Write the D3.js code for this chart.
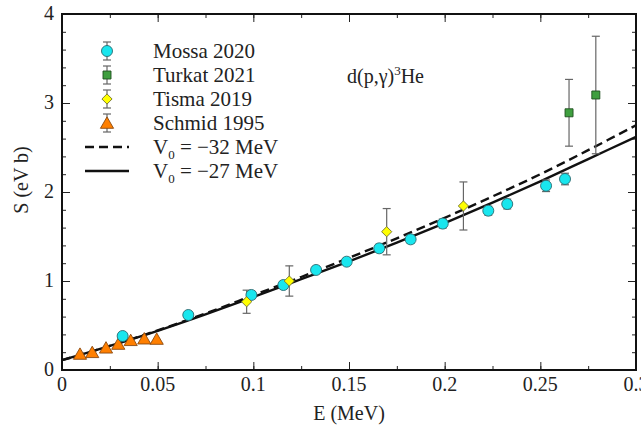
<!DOCTYPE html>
<html>
<head>
<meta charset="utf-8">
<script src="https://cdn.jsdelivr.net/npm/d3@7"></script>
<style>
  body { margin: 0; background: #fff; }
</style>
</head>
<body>
<div id="chart"></div>
<script>
// data
var mossaE = [0.0317, 0.066, 0.099, 0.1157, 0.1328, 0.1488, 0.1658, 0.1822, 0.199, 0.2228, 0.2327, 0.253, 0.2629];
var mossaS = [0.382, 0.618, 0.843, 0.955, 1.124, 1.217, 1.367, 1.468, 1.645, 1.79, 1.865, 2.07, 2.146];
var mossaErr = [0.03, 0.03, 0.04, 0.04, 0.04, 0.04, 0.045, 0.045, 0.05, 0.05, 0.055, 0.065, 0.065];

var turkatE = [0.265, 0.279];
var turkatS = [2.89, 3.09];
var turkatErr = [0.375, 0.66];

var tismaE = [0.0965, 0.1188, 0.1697, 0.2098];
var tismaS = [0.767, 1.0, 1.554, 1.843];
var tismaErr = [0.13, 0.17, 0.26, 0.27];

var schmidE = [0.0094, 0.0158, 0.023, 0.0294, 0.0359, 0.043, 0.0495];
var schmidS = [0.18, 0.199, 0.25, 0.292, 0.334, 0.352, 0.348];

var curveE = [0, 0.025, 0.05, 0.075, 0.1, 0.125, 0.15, 0.175, 0.2, 0.225, 0.25, 0.275, 0.3];
var curve32 = [0.11, 0.27, 0.445, 0.635, 0.84, 1.045, 1.26, 1.48, 1.71, 1.95, 2.2, 2.47, 2.75];
var curve27 = [0.11, 0.27, 0.44, 0.625, 0.82, 1.02, 1.22, 1.43, 1.65, 1.88, 2.12, 2.37, 2.62];

var xTicks = [0, 0.05, 0.1, 0.15, 0.2, 0.25, 0.3];
var xTickLabels = ["0", "0.05", "0.1", "0.15", "0.2", "0.25", "0.3"];
var yTicks = [0, 1, 2, 3, 4];

var serif = "Liberation Serif";

var svgWidth = 641, svgHeight = 434;
var margin = { top: 14, right: 5, bottom: 64, left: 62 };
var width = svgWidth - margin.left - margin.right;
var height = svgHeight - margin.top - margin.bottom;

var svg = d3.select("#chart").append("svg")
  .attr("width", svgWidth)
  .attr("height", svgHeight);

var g = svg.append("g")
  .attr("transform", `translate(${margin.left}, ${margin.top})`);

var x = d3.scaleLinear().domain([0, 0.3]).range([0, width]);
var y = d3.scaleLinear().domain([0, 4]).range([height, 0]);

// ticks on all four sides, pointing inward
var xMinor = d3.range(0, 0.3001, 0.025);
var yMinor = d3.range(0, 4.001, 0.2);

function tickAxis(axisFn, scale, values, size, transform) {
  g.append("g")
    .attr("transform", transform)
    .call(axisFn(scale).tickValues(values).tickSize(size).tickFormat(""))
    .call(a => a.select(".domain").remove())
    .selectAll("line").attr("stroke", "#222").attr("stroke-width", 1);
}
tickAxis(d3.axisTop, x, xMinor, 4, `translate(0, ${height})`);
tickAxis(d3.axisTop, x, xTicks, 8, `translate(0, ${height})`);
tickAxis(d3.axisBottom, x, xMinor, 4, "translate(0, 0)");
tickAxis(d3.axisBottom, x, xTicks, 8, "translate(0, 0)");
tickAxis(d3.axisRight, y, yMinor, 4, "translate(0, 0)");
tickAxis(d3.axisRight, y, yTicks, 8, "translate(0, 0)");
tickAxis(d3.axisLeft, y, yMinor, 4, `translate(${width}, 0)`);
tickAxis(d3.axisLeft, y, yTicks, 8, `translate(${width}, 0)`);

function txt(parent, size) {
  return parent.append("text")
    .attr("font-family", serif)
    .attr("font-size", size)
    .attr("fill", "#222");
}

// tick labels
xTicks.forEach(function(d, i) {
  txt(g, 20).attr("x", x(d)).attr("y", height + 21)
    .attr("text-anchor", "middle").text(xTickLabels[i]);
});
yTicks.forEach(function(d) {
  txt(g, 20).attr("x", -8).attr("y", y(d) + 6)
    .attr("text-anchor", "end").text(d);
});

// axis titles
txt(g, 20).attr("x", width / 2).attr("y", height + 50)
  .attr("text-anchor", "middle").text("E (MeV)");

txt(g, 20).attr("transform", `translate(-34, ${height / 2 - 12}) rotate(-90)`)
  .attr("text-anchor", "middle").text("S (eV b)");

// reaction label
var react = txt(g, 20).attr("x", 285).attr("y", 69);
react.append("tspan").text("d(p,γ)");
react.append("tspan").attr("dy", -8).attr("font-size", 13).text("3");
react.append("tspan").attr("dy", 8).text("He");

// curves
var line = d3.line()
  .x(d => x(d[0]))
  .y(d => y(d[1]))
  .curve(d3.curveCatmullRom);

g.append("path")
  .datum(curveE.map((e, i) => [e, curve32[i]]))
  .attr("d", line)
  .attr("fill", "none").attr("stroke", "#111")
  .attr("stroke-width", 2.4).attr("stroke-dasharray", "9,5");

g.append("path")
  .datum(curveE.map((e, i) => [e, curve27[i]]))
  .attr("d", line)
  .attr("fill", "none").attr("stroke", "#111")
  .attr("stroke-width", 2.4);

// error bars
function errorBars(es, ss, errs) {
  var eg = g.append("g").attr("stroke", "#666").attr("stroke-width", 1.2);
  es.forEach(function(e, i) {
    var cx = x(e), y1 = y(ss[i] - errs[i]), y2 = y(ss[i] + errs[i]);
    eg.append("line").attr("x1", cx).attr("x2", cx).attr("y1", y1).attr("y2", y2);
    eg.append("line").attr("x1", cx - 4).attr("x2", cx + 4).attr("y1", y1).attr("y2", y1);
    eg.append("line").attr("x1", cx - 4).attr("x2", cx + 4).attr("y1", y2).attr("y2", y2);
  });
}
errorBars(mossaE, mossaS, mossaErr);
errorBars(turkatE, turkatS, turkatErr);
errorBars(tismaE, tismaS, tismaErr);

function markers(es, ss, type, size, fill, stroke, dy, rot) {
  g.selectAll(null)
    .data(es.map((e, i) => [e, ss[i]]))
    .enter().append("path")
    .attr("d", d3.symbol().type(type).size(size))
    .attr("transform", d => `translate(${x(d[0])}, ${y(d[1]) + (dy || 0)}) rotate(${rot || 0})`)
    .attr("fill", fill).attr("stroke", stroke).attr("stroke-width", 0.9);
}
markers(schmidE, schmidS, d3.symbolTriangle, 75, "#ff7f00", "#8a4a10", 1.5);
markers(mossaE, mossaS, d3.symbolCircle, 95, "#19e6ee", "#2a6a70");
markers(turkatE, turkatS, d3.symbolSquare, 64, "#3f9f3f", "#1f4f1f");
markers(tismaE, tismaS, d3.symbolSquare, 52, "#ffff00", "#7a7a30", 0, 45);

// legend
var legendNames = ["Mossa 2020", "Turkat 2021", "Tisma 2019", "Schmid 1995"];
var legendSyms = [d3.symbolCircle, d3.symbolSquare, d3.symbolSquare, d3.symbolTriangle];
var legendRot = [0, 0, 45, 0];
var legendFills = ["#19e6ee", "#3f9f3f", "#ffff00", "#ff7f00"];
var legendStrokes = ["#2a6a70", "#1f4f1f", "#7a7a30", "#8a4a10"];
var legendSizes = [95, 64, 52, 75];
var lx = 45, ly0 = 37, lstep = 24;

var leg = g.append("g");
legendNames.forEach(function(name, i) {
  var cy = ly0 + i * lstep;
  var eb = leg.append("g").attr("stroke", "#666").attr("stroke-width", 1.2);
  eb.append("line").attr("x1", lx).attr("x2", lx).attr("y1", cy - 9).attr("y2", cy + 9);
  eb.append("line").attr("x1", lx - 4).attr("x2", lx + 4).attr("y1", cy - 9).attr("y2", cy - 9);
  eb.append("line").attr("x1", lx - 4).attr("x2", lx + 4).attr("y1", cy + 9).attr("y2", cy + 9);
  leg.append("path")
    .attr("d", d3.symbol().type(legendSyms[i]).size(legendSizes[i]))
    .attr("transform", `translate(${lx}, ${cy + (i === 3 ? 1.5 : 0)}) rotate(${legendRot[i]})`)
    .attr("fill", legendFills[i]).attr("stroke", legendStrokes[i]).attr("stroke-width", 0.9);
  txt(leg, 21).attr("x", lx + 46).attr("y", cy + 7).text(name);
});

var lineLegend = [["−32 MeV", "9,5"], ["−27 MeV", null]];
lineLegend.forEach(function(item, j) {
  var cy = ly0 + (4 + j) * lstep;
  leg.append("line")
    .attr("x1", lx - 22).attr("x2", lx + 22).attr("y1", cy).attr("y2", cy)
    .attr("stroke", "#111").attr("stroke-width", 2.4)
    .attr("stroke-dasharray", item[1]);
  var t = txt(leg, 21).attr("x", lx + 46).attr("y", cy + 7);
  t.append("tspan").text("V");
  t.append("tspan").attr("dy", 5).attr("font-size", 13).text("0");
  t.append("tspan").attr("dy", -5).text(" = " + item[0]);
});

// frame
g.append("rect")
  .attr("width", width).attr("height", height)
  .attr("fill", "none").attr("stroke", "#111").attr("stroke-width", 2);
</script>
</body>
</html>
